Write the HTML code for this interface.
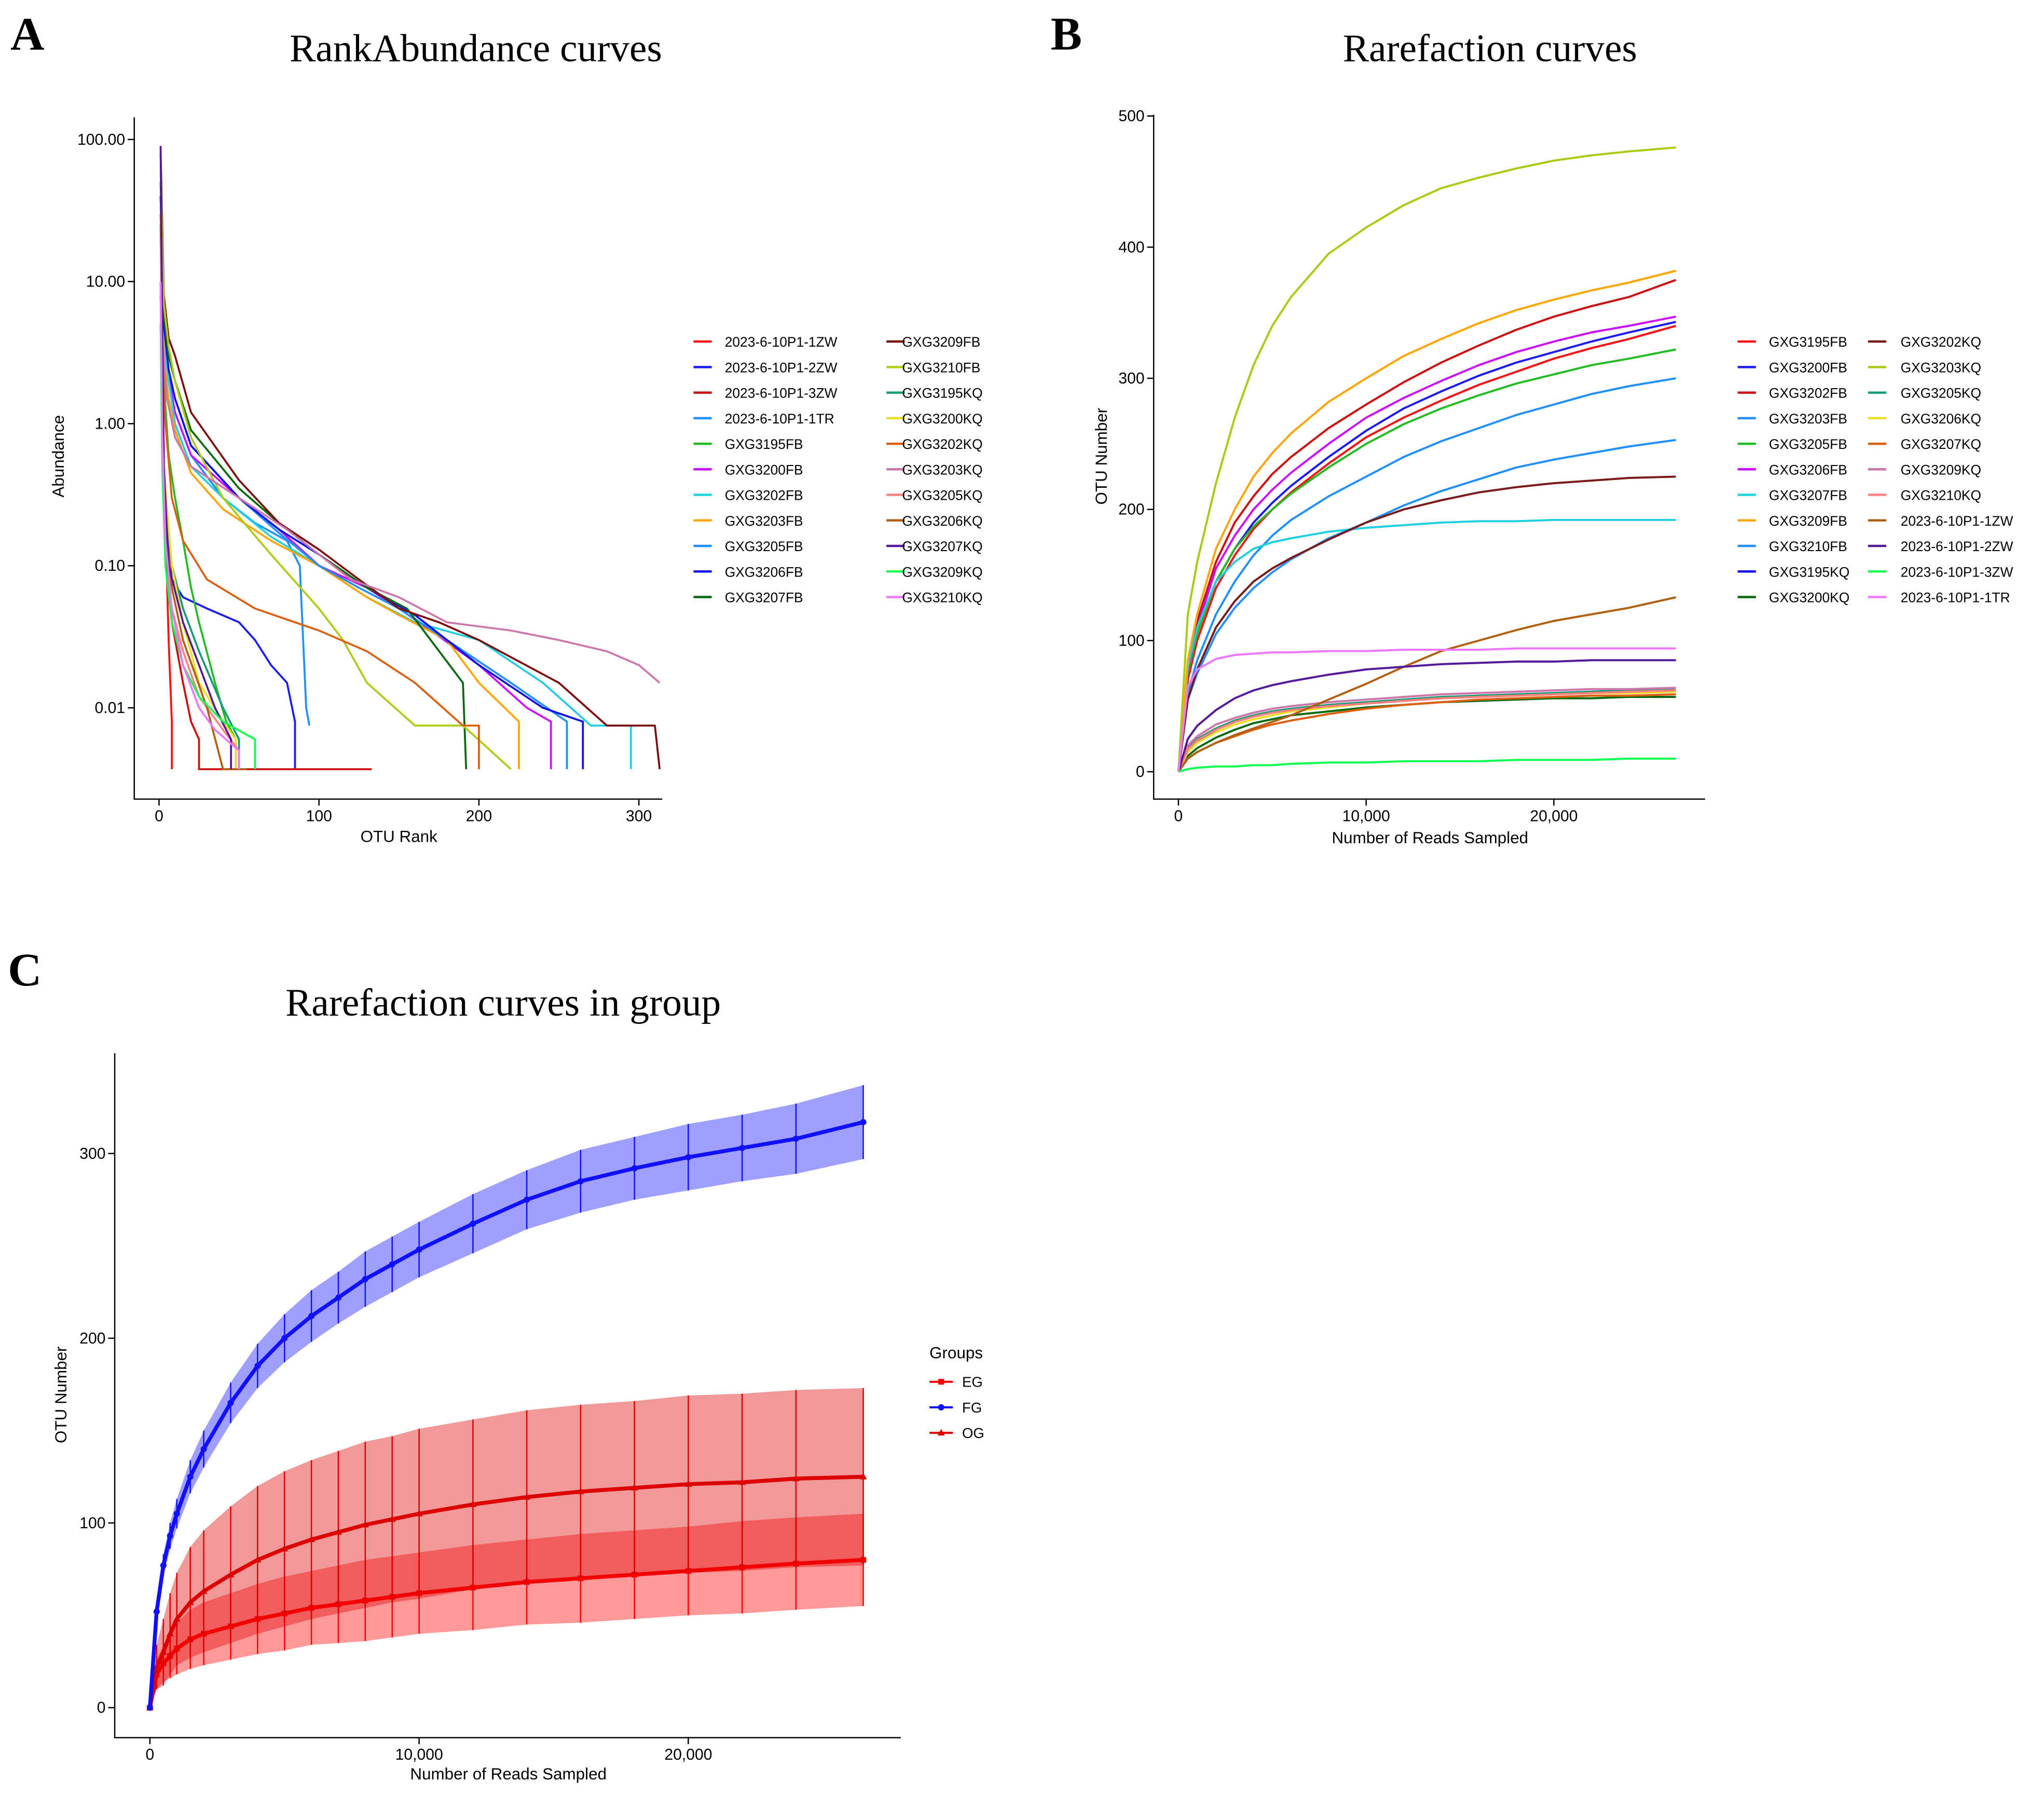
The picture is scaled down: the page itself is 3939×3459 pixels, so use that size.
<!DOCTYPE html>
<html><head><meta charset="utf-8"><style>
html,body{margin:0;padding:0;background:#fff}
svg{display:block}
text{font-family:"Liberation Sans",Arial,sans-serif;fill:#000}
.serif{font-family:"Liberation Serif","Times New Roman",serif}
</style></head><body>
<svg id="fig" xmlns="http://www.w3.org/2000/svg" width="3939" height="3459" viewBox="0 0 1568 1377" preserveAspectRatio="none">
<rect width="1568" height="1377" fill="#fff"/>
<text class="serif" x="8" y="38" font-size="36" font-weight="bold">A</text>
<text class="serif" x="806" y="38" font-size="36" font-weight="bold">B</text>
<text class="serif" x="6" y="756" font-size="36" font-weight="bold">C</text>
<text class="serif" x="365" y="47" font-size="30" text-anchor="middle">RankAbundance curves</text>
<text class="serif" x="1143" y="47" font-size="30" text-anchor="middle">Rarefaction curves</text>
<text class="serif" x="386" y="779" font-size="30" text-anchor="middle">Rarefaction curves in group</text>
<g id="ga"></g>
<g id="gb"></g>
<g id="gc"></g>
</svg>
<script>
// ===== Panel A data =====
const aNames = ["2023-6-10P1-1ZW","2023-6-10P1-2ZW","2023-6-10P1-3ZW","2023-6-10P1-1TR","GXG3195FB","GXG3200FB","GXG3202FB","GXG3203FB","GXG3205FB","GXG3206FB","GXG3207FB","GXG3209FB","GXG3210FB","GXG3195KQ","GXG3200KQ","GXG3202KQ","GXG3203KQ","GXG3205KQ","GXG3206KQ","GXG3207KQ","GXG3209KQ","GXG3210KQ"];
const aColors = ["#ff1010","#1a1aff","#cc1010","#2090ff","#22bb22","#cc10ff","#20d0e0","#ffa500","#2090ff","#1010ee","#0a6a10","#7a1010","#b0cc10","#159a78","#e8e020","#dd6010","#cc77aa","#ff8080","#b06010","#551a99","#10ff50","#ee77ff"];
const aRanks = [
[1,2,4,6,8,8],
[1,2,4,8,15,30,50,60,70,80,85,85],
[1,2,4,8,15,20,25,25,133],
[1,3,6,10,20,40,60,80,88,92,94],
[1,3,6,10,15,20,25,35,42,48,48],
[1,3,6,10,20,50,75,100,130,150,170,200,230,245,245],
[1,3,6,10,20,40,70,100,130,160,200,240,270,295,295],
[1,3,6,10,20,40,70,100,130,150,180,200,225,225],
[1,3,6,10,20,50,75,100,125,150,180,220,255,255],
[1,3,6,10,20,50,75,100,130,160,200,240,265,265],
[1,3,6,10,20,50,75,100,130,155,190,192],
[1,3,6,10,20,50,75,100,125,150,175,200,250,280,310,313],
[1,3,6,10,20,40,70,100,115,130,160,190,220],
[1,2,4,8,15,25,40,50,50],
[1,2,4,8,15,25,40,48,48],
[1,2,4,8,15,30,60,100,130,160,190,200,200],
[1,2,5,10,20,50,80,120,150,180,220,250,280,300,313],
[1,2,4,8,15,25,40,50,50],
[1,2,4,8,15,30,40,55],
[1,2,3,6,15,25,35,45,45],
[1,2,4,8,15,25,40,60,60],
[1,2,4,8,15,25,35,50,50]];
const aAbund = [
[25,2,0.2,0.03,0.008,0.0037],
[10,1,0.2,0.08,0.06,0.05,0.04,0.03,0.02,0.015,0.008,0.0037],
[8,1,0.15,0.04,0.015,0.008,0.006,0.0037,0.0037],
[40,4,2,1.2,0.6,0.3,0.2,0.15,0.1,0.01,0.0075],
[20,2,0.6,0.3,0.15,0.07,0.04,0.015,0.008,0.006,0.0037],
[40,5,2.2,1.2,0.6,0.3,0.18,0.1,0.07,0.05,0.035,0.02,0.01,0.008,0.0037],
[30,4,2,1,0.5,0.3,0.16,0.1,0.06,0.04,0.03,0.015,0.0075,0.0075,0.0037],
[30,3,1.5,0.9,0.45,0.25,0.15,0.1,0.06,0.045,0.03,0.015,0.008,0.0037],
[40,5,2.4,1.5,0.7,0.3,0.17,0.1,0.07,0.05,0.03,0.015,0.008,0.0037],
[40,5,2.4,1.5,0.7,0.3,0.18,0.12,0.07,0.045,0.02,0.01,0.008,0.0037],
[50,6,3,2,0.9,0.35,0.2,0.12,0.07,0.05,0.015,0.0037],
[80,8,4,3,1.2,0.4,0.2,0.13,0.08,0.05,0.04,0.03,0.015,0.0075,0.0075,0.0037],
[60,7,3.5,2,0.8,0.3,0.12,0.05,0.03,0.015,0.0075,0.0075,0.0037],
[10,1,0.3,0.1,0.05,0.025,0.01,0.006,0.0037],
[10,1,0.35,0.1,0.04,0.015,0.008,0.006,0.0037],
[30,3,1,0.3,0.15,0.08,0.05,0.035,0.025,0.015,0.0075,0.0075,0.0037],
[20,4,1.5,0.8,0.5,0.3,0.18,0.08,0.06,0.04,0.035,0.03,0.025,0.02,0.015],
[10,0.8,0.15,0.05,0.025,0.012,0.007,0.005,0.0037],
[5,0.8,0.2,0.07,0.03,0.01,0.0037,0.0037],
[90,5,0.5,0.1,0.04,0.02,0.01,0.006,0.0037],
[5,0.5,0.1,0.04,0.02,0.012,0.008,0.006,0.0037],
[10,0.8,0.15,0.05,0.02,0.01,0.007,0.005,0.0037]];
const aXTicks = [0,100,200,300];
const aYTicks = [100,10,1,0.1,0.01];
const aYTickLabels = ["100.00","10.00","1.00","0.10","0.01"];

// ===== Panel B data =====
const bReads = [0,500,1000,2000,3000,4000,5000,6000,8000,10000,12000,14000,16000,18000,20000,22000,24000,26500];
const bNames = ["GXG3195FB","GXG3200FB","GXG3202FB","GXG3203FB","GXG3205FB","GXG3206FB","GXG3207FB","GXG3209FB","GXG3210FB","GXG3195KQ","GXG3200KQ","GXG3202KQ","GXG3203KQ","GXG3205KQ","GXG3206KQ","GXG3207KQ","GXG3209KQ","GXG3210KQ","2023-6-10P1-1ZW","2023-6-10P1-2ZW","2023-6-10P1-3ZW","2023-6-10P1-1TR"];
const bColors = ["#ff1010","#1a1aff","#cc1010","#2090ff","#22bb22","#cc10ff","#20d0e0","#ffa500","#2090ff","#1010ee","#0a6a10","#7a1a1a","#a8cc10","#159a78","#e8e020","#dd6010","#cc77aa","#ff8080","#b06010","#551a99","#10ff50","#ee77ff"];
const bOTU = [
[0,70,100,140,165,185,200,213,235,255,270,283,295,305,315,323,330,340],
[0,75,105,145,170,190,205,218,240,260,277,290,302,312,320,328,335,343],
[0,80,115,160,190,210,227,240,262,280,297,312,325,337,347,355,362,375],
[0,60,85,120,145,165,180,192,210,225,240,252,262,272,280,288,294,300],
[0,75,105,145,170,187,200,212,232,250,265,277,287,296,303,310,315,322],
[0,78,110,155,180,200,215,228,250,270,285,298,310,320,328,335,340,347],
[0,80,110,145,160,170,175,178,183,186,188,190,191,191,192,192,192,192],
[0,85,120,170,200,225,243,258,282,300,317,330,342,352,360,367,373,382],
[0,55,75,105,125,140,152,162,178,190,203,214,223,232,238,243,248,253],
[0,15,22,32,38,42,45,47,50,52,54,56,58,59,60,61,62,62],
[0,12,18,26,32,37,40,43,46,49,51,53,54,55,56,56,57,57],
[0,55,78,110,130,145,155,163,177,190,200,207,213,217,220,222,224,225],
[0,120,160,220,270,310,340,362,395,415,432,445,453,460,466,470,473,476],
[0,18,25,33,39,43,46,48,51,53,55,57,58,59,60,61,62,63],
[0,15,22,30,36,40,43,46,49,52,54,56,57,58,59,60,60,61],
[0,10,15,22,27,32,36,39,44,48,51,53,55,56,57,58,58,59],
[0,20,27,36,41,45,48,50,53,55,57,59,60,61,62,63,63,64],
[0,17,24,32,38,42,45,47,50,52,54,56,57,58,59,60,61,62],
[0,10,15,22,28,33,38,43,55,67,80,92,100,108,115,120,125,133],
[0,25,35,47,56,62,66,69,74,78,80,82,83,84,84,85,85,85],
[0,2,3,4,4,5,5,6,7,7,8,8,8,9,9,9,10,10],
[0,65,78,86,89,90,91,91,92,92,93,93,93,94,94,94,94,94]];
const bXTicks = [0,10000,20000];
const bXTickLabels = ["0","10,000","20,000"];
const bYTicks = [0,100,200,300,400,500];

// ===== Panel C data =====
const cReads = [0,250,500,750,1000,1500,2000,3000,4000,5000,6000,7000,8000,9000,10000,12000,14000,16000,18000,20000,22000,24000,26500];
const cGroups = ["EG","FG","OG"];
const cColors = ["#ff0000","#1010ff","#dd0000"];
const cEG = [0,18,24,28,32,37,40,44,48,51,54,56,58,60,62,65,68,70,72,74,76,78,80];
const cEGerr = [0,8,10,12,14,16,17,18,19,20,20,21,22,22,22,23,23,24,24,24,25,25,25];
const cFG = [0,52,77,93,105,125,140,165,185,200,212,222,232,240,248,262,275,285,292,298,303,308,317];
const cFGerr = [0,5,6,7,8,9,10,11,12,13,14,14,15,15,15,16,16,17,17,18,18,19,20];
const cOG = [0,22,30,40,48,57,63,72,80,86,91,95,99,102,105,110,114,117,119,121,122,124,125];
const cOGerr = [0,12,18,22,25,30,33,37,40,42,43,44,45,45,46,46,47,47,47,48,48,48,48];
const cXTicks = [0,10000,20000];
const cXTickLabels = ["0","10,000","20,000"];
const cYTicks = [0,100,200,300];

const NS="http://www.w3.org/2000/svg";
function mk(parent,tag,attrs,txt){const e=document.createElementNS(NS,tag);for(const k in attrs)e.setAttribute(k,attrs[k]);if(txt!==undefined)e.textContent=txt;parent.appendChild(e);return e;}

// ---------- Panel A ----------
const ga=document.getElementById('ga');
const axA=r=>122+r*1.227;
const ayA=v=>325-109*Math.log10(v);
for(let i=0;i<aNames.length;i++){
  const rs=aRanks[i], vs=aAbund[i];
  const pts=rs.map((r,j)=>axA(r)+","+ayA(vs[j])).join(" ");
  const p=mk(ga,'polyline',{points:pts,fill:'none',stroke:aColors[i],'stroke-width':1.5,'stroke-linejoin':'round'});
  
  
}
let e=mk(ga,'path',{d:"M103 90 V613 H508",fill:'none',stroke:'#000','stroke-width':1});


aXTicks.forEach(t=>{const x=axA(t);mk(ga,'line',{x1:x,x2:x,y1:613,y2:618,stroke:'#000'});
  const l=mk(ga,'text',{x:x,y:630,'font-size':12,'text-anchor':'middle'},String(t));
  
  });
aYTicks.forEach((t,i)=>{const y=ayA(t);mk(ga,'line',{x1:98,x2:103,y1:y,y2:y,stroke:'#000'});
  const l=mk(ga,'text',{x:96,y:y+4,'font-size':12,'text-anchor':'end'},aYTickLabels[i]);
  
  });
e=mk(ga,'text',{x:306,y:646,'font-size':12.5,'text-anchor':'middle'},"OTU Rank");


e=mk(ga,'text',{x:0,y:0,'font-size':12.5,'text-anchor':'middle',transform:'translate(49,350) rotate(-90)'},"Abundance");


for(let i=0;i<aNames.length;i++){
  const col=Math.floor(i/11), row=i%11;
  const lx=col?680:532, tx=col?692:556, y=262+19.6*row;
  mk(ga,'line',{x1:lx,x2:lx+14,y1:y,y2:y,stroke:aColors[i],'stroke-width':1.8});
  const t=mk(ga,'text',{x:tx,y:y+4,'font-size':10.5},aNames[i]);
  
  
}

// ---------- Panel B ----------
const gb=document.getElementById('gb');
const axB=r=>904+r*0.0144;
const ayB=v=>592-v*1.006;
for(let i=0;i<bNames.length;i++){
  const pts=bReads.map((r,j)=>axB(r)+","+ayB(bOTU[i][j])).join(" ");
  const p=mk(gb,'polyline',{points:pts,fill:'none',stroke:bColors[i],'stroke-width':1.6,'stroke-linejoin':'round'});
  
  
}
e=mk(gb,'path',{d:"M885 88 V613 H1308",fill:'none',stroke:'#000','stroke-width':1});


bXTicks.forEach((t,i)=>{const x=axB(t);mk(gb,'line',{x1:x,x2:x,y1:613,y2:618,stroke:'#000'});
  const l=mk(gb,'text',{x:x,y:630,'font-size':12,'text-anchor':'middle'},bXTickLabels[i]);
  
  });
bYTicks.forEach(t=>{const y=ayB(t);mk(gb,'line',{x1:880,x2:885,y1:y,y2:y,stroke:'#000'});
  const l=mk(gb,'text',{x:878,y:y+4,'font-size':12,'text-anchor':'end'},String(t));
  
  });
e=mk(gb,'text',{x:1097,y:647,'font-size':12.5,'text-anchor':'middle'},"Number of Reads Sampled");


e=mk(gb,'text',{x:0,y:0,'font-size':12.5,'text-anchor':'middle',transform:'translate(849,350) rotate(-90)'},"OTU Number");


for(let i=0;i<bNames.length;i++){
  const col=Math.floor(i/11), row=i%11;
  const lx=col?1433:1333, tx=col?1458:1357, y=262+19.6*row;
  mk(gb,'line',{x1:lx,x2:lx+14,y1:y,y2:y,stroke:bColors[i],'stroke-width':1.8});
  const t=mk(gb,'text',{x:tx,y:y+4,'font-size':10.5},bNames[i]);
  
  
}

// ---------- Panel C ----------
const gc=document.getElementById('gc');
const axC=r=>115+r*0.02065;
const ayC=v=>1310-v*1.417;
const cMeans=[cEG,cFG,cOG], cErrs=[cEGerr,cFGerr,cOGerr];
function marker(g,shape,x,y,col){
  if(shape===0) return mk(g,'rect',{x:x-2.2,y:y-2.2,width:4.4,height:4.4,fill:col});
  if(shape===1) return mk(g,'circle',{cx:x,cy:y,r:2.4,fill:col});
  return mk(g,'polygon',{points:(x)+","+(y-3)+" "+(x-2.8)+","+(y+2)+" "+(x+2.8)+","+(y+2),fill:col});
}
[0,2,1].forEach(gi=>{
  const m=cMeans[gi], er=cErrs[gi], col=cColors[gi];
  const up=cReads.map((r,j)=>axC(r)+","+ayC(m[j]+er[j]));
  const dn=cReads.map((r,j)=>axC(r)+","+ayC(m[j]-er[j])).reverse();
  const band=mk(gc,'polygon',{points:up.concat(dn).join(" "),fill:col,'fill-opacity':0.4,stroke:'none'});
  
  
  cReads.forEach((r,j)=>{
    const x=axC(r);
    const b=mk(gc,'line',{x1:x,x2:x,y1:ayC(m[j]+er[j]),y2:ayC(m[j]-er[j]),stroke:col,'stroke-width':1});
    
    
  });
  const ln=mk(gc,'polyline',{points:cReads.map((r,j)=>axC(r)+","+ayC(m[j])).join(" "),fill:'none',stroke:col,'stroke-width':3});
  
  
  cReads.forEach((r,j)=>{
    const mm=marker(gc,gi,axC(r),ayC(m[j]),col);
    
    
  });
});
e=mk(gc,'path',{d:"M88 808 V1333 H691",fill:'none',stroke:'#000','stroke-width':1});


cXTicks.forEach((t,i)=>{const x=axC(t);mk(gc,'line',{x1:x,x2:x,y1:1333,y2:1338,stroke:'#000'});
  const l=mk(gc,'text',{x:x,y:1350,'font-size':12,'text-anchor':'middle'},cXTickLabels[i]);
  
  });
cYTicks.forEach(t=>{const y=ayC(t);mk(gc,'line',{x1:83,x2:88,y1:y,y2:y,stroke:'#000'});
  const l=mk(gc,'text',{x:81,y:y+4,'font-size':12,'text-anchor':'end'},String(t));
  
  });
e=mk(gc,'text',{x:390,y:1365,'font-size':12.5,'text-anchor':'middle'},"Number of Reads Sampled");


e=mk(gc,'text',{x:0,y:0,'font-size':12.5,'text-anchor':'middle',transform:'translate(51,1070) rotate(-90)'},"OTU Number");


e=mk(gc,'text',{x:713,y:1042,'font-size':12.5},"Groups");


cGroups.forEach((g,i)=>{
  const y=1060+19.6*i;
  mk(gc,'line',{x1:713,x2:731,y1:y,y2:y,stroke:cColors[i],'stroke-width':1.6});
  marker(gc,i,722,y,cColors[i]);
  const t=mk(gc,'text',{x:738,y:y+4,'font-size':11},g);
  
  
});
</script>
</body></html>
